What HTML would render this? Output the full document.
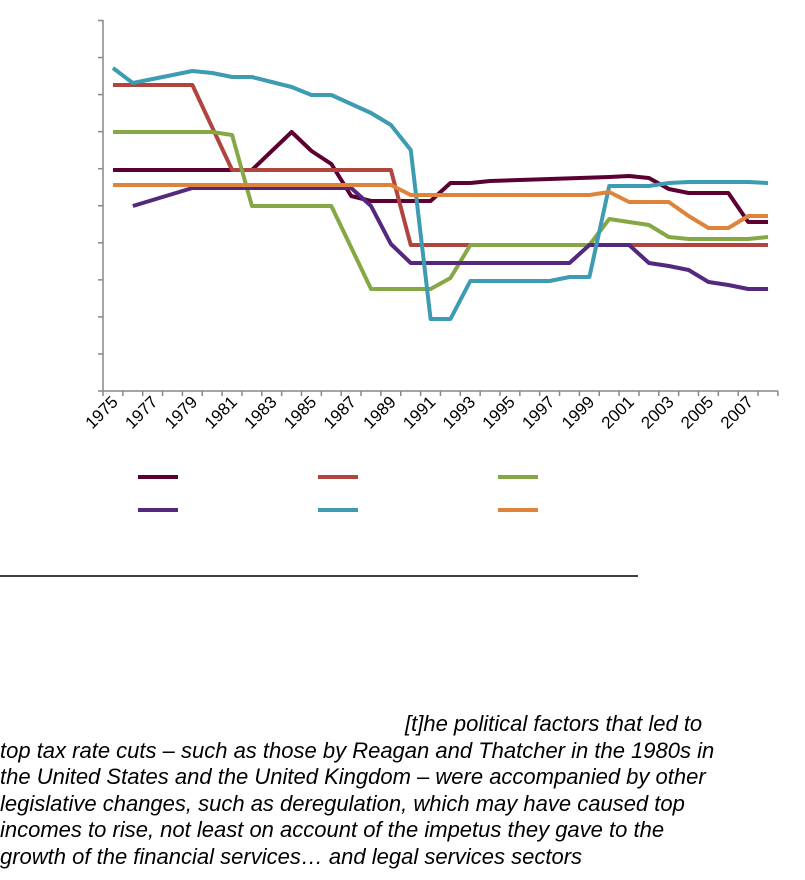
<!DOCTYPE html>
<html><head><meta charset="utf-8"><style>
body{margin:0;background:#fff;width:805px;height:880px;overflow:hidden;position:relative;font-family:"Liberation Sans",Arial,sans-serif}
.t{position:absolute;left:0;font-style:italic;font-size:22px;line-height:26.6px;color:#000;white-space:nowrap}
</style></head><body>
<svg width="805" height="600" style="position:absolute;left:0;top:0" id="s"></svg>
<div class="t" style="top:711px;left:0">
<span style="padding-left:405px">[t]he political factors that led to</span><br>
top tax rate cuts – such as those by Reagan and Thatcher in the 1980s in<br>
the United States and the United Kingdom – were accompanied by other<br>
legislative changes, such as deregulation, which may have caused top<br>
incomes to rise, not least on account of the impetus they gave to the<br>
growth of the financial services… and legal services sectors</div>
<script>
var s=document.getElementById('s'),h='';
h+='<line x1="103" y1="20" x2="103" y2="391" stroke="#888" stroke-width="1.5"/>';
h+='<line x1="103" y1="391" x2="778" y2="391" stroke="#888" stroke-width="1.5"/>';
for(var k=0;k<=10;k++){var y=20.5+37.05*k;h+='<line x1="98" y1="'+y+'" x2="103" y2="'+y+'" stroke="#888" stroke-width="1.5"/>';}
var W=19.85;
for(var i=0;i<=34;i++){var x=103+W*i;h+='<line x1="'+x+'" y1="391" x2="'+x+'" y2="396" stroke="#888" stroke-width="1.5"/>';}
for(var i=0;i<34;i+=2){var x=113+W*i+6;h+='<text x="'+x+'" y="403" font-size="17" text-anchor="end" transform="rotate(-45 '+x+' 403)" font-family="Liberation Sans,Arial,sans-serif">'+(1975+i)+'</text>';}
function X(i){return 113+W*i;}
var D={
'#5c0032':[[0,170],[7,170],[9,132],[10,151],[11,164],[12,196],[13,201],[16,201],[17,183],[18,183],[19,181],[22,179],[25,177],[26,176],[27,178],[28,189],[29,193],[31,193],[32,222],[33,222]],
'#b0443f':[[0,85],[4,85],[6,170],[14,170],[15,245],[33,245]],
'#86a844':[[0,132],[5,132],[6,135],[7,206],[11,206],[13,289],[16,289],[17,278],[18,245],[24,245],[25,219],[27,225],[28,237],[29,239],[32,239],[33,237]],
'#54287e':[[1,206],[4,188],[12,188],[13,206],[14,244],[15,263],[23,263],[24,245],[26,245],[27,263],[28,266],[29,270],[30,282],[31,285],[32,289],[33,289]],
'#3d9bb2':[[0,68],[1,83],[2,79],[3,75],[4,71],[5,73],[6,77],[7,77],[8,82],[9,87],[10,95],[11,95],[12,104],[13,113],[14,125],[15,150],[16,319],[17,319],[18,281],[22,281],[23,277],[24,277],[25,186],[27,186],[28,183],[29,182],[32,182],[33,183]],
'#e0833a':[[0,185],[14,185],[15,195],[24,195],[25,192],[26,202],[28,202],[29,216],[30,228],[31,228],[32,216],[33,216]]};
for(var c in D){h+='<polyline fill="none" stroke="'+c+'" stroke-width="4" stroke-linejoin="round" points="'+D[c].map(function(p){return X(p[0])+','+p[1]}).join(' ')+'"/>';}
var L=[['#5c0032',138,477],['#b0443f',318,477],['#86a844',498,477],['#54287e',138,510],['#3d9bb2',318,510],['#e0833a',498,510]];
L.forEach(function(l){h+='<line x1="'+l[1]+'" y1="'+l[2]+'" x2="'+(l[1]+40)+'" y2="'+l[2]+'" stroke="'+l[0]+'" stroke-width="4"/>';});
h+='<line x1="0" y1="576" x2="638" y2="576" stroke="#000" stroke-width="1.5"/>';
s.innerHTML=h;
</script>
</body></html>
